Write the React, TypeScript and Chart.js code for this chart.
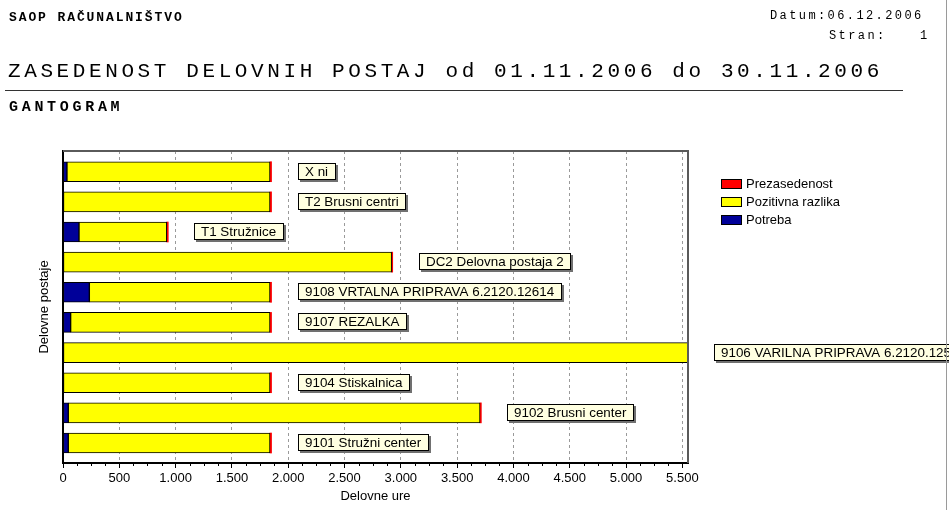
import React, { useEffect, useRef } from 'react';
import { Chart, registerables } from 'chart.js';

Chart.register(...registerables);

// ---------- data ----------
const stations = [
  'X ni',
  'T2 Brusni centri',
  'T1 Stružnice',
  'DC2 Delovna postaja 2',
  '9108 VRTALNA PRIPRAVA 6.2120.12614',
  '9107 REZALKA',
  '9106 VARILNA PRIPRAVA 6.2120.125',
  '9104 Stiskalnica',
  '9102 Brusni center',
  '9101 Stružni center',
];
const potreba = [35, 0, 142, 0, 234, 68, 0, 0, 47, 47];
const pozitivnaRazlika = [1803, 1838, 779, 2918, 1604, 1770, 5550, 1838, 3656, 1791];
const prezasedenost = [14, 14, 14, 10, 14, 14, 0, 14, 12, 14];
const seriesNames = ['Potreba', 'Pozitivna razlika', 'Prezasedenost'];
const seriesColors = ['#000099', '#FFFF00', '#FF0000'];
const xMajorTicks = [0, 500, 1000, 1500, 2000, 2500, 3000, 3500, 4000, 4500, 5000, 5500];
const xMax = 5550;
const xMinorDivisions = 4;

const FONT = '"Liberation Sans", Arial, sans-serif';
const MONO = '"Liberation Mono", "Courier New", monospace';

const fmt = (v: number) => {
  const s = String(Math.round(v));
  return s.replace(/\B(?=(\d{3})+(?!\d))/g, '.');
};
const isMajor = (v: number) => xMajorTicks.includes(v);

const labelPlugin = {
  id: 'stationLabels',
  afterDatasetsDraw(chart: any) {
    const { ctx, scales, chartArea } = chart;
    const x = scales.x;
    const y = scales.y;
    ctx.save();
    // plot frame (top / right)
    ctx.strokeStyle = '#5a5a5a';
    ctx.lineWidth = 2;
    ctx.beginPath();
    ctx.moveTo(chartArea.left, chartArea.top);
    ctx.lineTo(chartArea.right, chartArea.top);
    ctx.lineTo(chartArea.right, chartArea.bottom);
    ctx.stroke();
    // minor ticks
    ctx.strokeStyle = '#000';
    ctx.lineWidth = 1;
    const step = (xMajorTicks[1] - xMajorTicks[0]) / xMinorDivisions;
    for (let v = 0; v <= xMajorTicks[xMajorTicks.length - 1]; v += step) {
      if (isMajor(v)) continue;
      const px = Math.round(x.getPixelForValue(v)) + 0.5;
      ctx.beginPath();
      ctx.moveTo(px, chartArea.bottom);
      ctx.lineTo(px, chartArea.bottom + 3);
      ctx.stroke();
    }
    // station labels
    ctx.font = '13.4px ' + FONT;
    ctx.textBaseline = 'middle';
    ctx.textAlign = 'left';
    stations.forEach((name, i) => {
      const total = potreba[i] + pozitivnaRazlika[i] + prezasedenost[i];
      const bx = Math.round(x.getPixelForValue(total)) + 26;
      const cy = Math.round(y.getPixelForValue(i));
      const w = Math.ceil(ctx.measureText(name).width) + 14;
      const h = 17;
      const by = cy - 9;
      ctx.fillStyle = '#707070';
      ctx.fillRect(bx + 2, by + 2, w, h);
      ctx.fillStyle = '#FFFFE1';
      ctx.fillRect(bx, by, w, h);
      ctx.strokeStyle = '#000';
      ctx.lineWidth = 1;
      ctx.strokeRect(bx + 0.5, by + 0.5, w - 1, h - 1);
      ctx.fillStyle = '#000';
      ctx.fillText(name, bx + 7, cy + 0.5);
    });
    ctx.restore();
  },
  afterDraw(chart: any) {
    const { ctx } = chart;
    ctx.save();
    ctx.font = '13px ' + FONT;
    ctx.textBaseline = 'middle';
    const items = chart.data.datasets.slice().reverse();
    items.forEach((ds: any, k: number) => {
      const cy = 184 + k * 18;
      ctx.fillStyle = ds.backgroundColor;
      ctx.fillRect(721, cy - 5, 21, 10);
      ctx.strokeStyle = '#000';
      ctx.lineWidth = 1;
      ctx.strokeRect(721.5, cy - 4.5, 20, 9);
      ctx.fillStyle = '#000';
      ctx.fillText(ds.label, 746, cy + 0.5);
    });
    ctx.restore();
  },
};

function GanttChart() {
  const ref = useRef<HTMLCanvasElement>(null);
  useEffect(() => {
    if (!ref.current) return;
    Chart.defaults.font.family = FONT;
    Chart.defaults.font.size = 13;
    Chart.defaults.color = '#000';
    const values = [potreba, pozitivnaRazlika, prezasedenost];
    const chart = new Chart(ref.current, {
      type: 'bar',
      data: {
        labels: stations,
        datasets: seriesNames.map((name, s) => ({
          label: name,
          data: values[s].map((v, i) => ({ x: v, y: i })),
          backgroundColor: seriesColors[s],
          borderColor: s === 2 ? seriesColors[s] : '#000',
          borderWidth: s === 2 ? 0 : 1,
          borderSkipped: false,
          barThickness: 20,
        })),
      },
      options: {
        indexAxis: 'y',
        animation: false,
        responsive: false,
        events: [],
        layout: { padding: { left: 33, top: 151, right: 261, bottom: 0 } },
        plugins: { legend: { display: false }, tooltip: { enabled: false } },
        scales: {
          x: {
            type: 'linear',
            stacked: true,
            offset: false,
            min: 0,
            max: xMax,
            afterBuildTicks: (scale: any) => {
              const step = (xMajorTicks[1] - xMajorTicks[0]) / xMinorDivisions;
              const t: any[] = [];
              for (let v = 0; v <= xMajorTicks[xMajorTicks.length - 1]; v += step) t.push({ value: v });
              scale.ticks = t;
            },
            afterFit: (scale: any) => {
              scale.height = 47;
            },
            ticks: {
              autoSkip: false,
              maxRotation: 0,
              padding: 3,
              font: { size: 13, family: FONT },
              color: '#000',
              callback: (v: any) => (isMajor(Number(v)) ? fmt(Number(v)) : ''),
            },
            grid: {
              offset: false,
              color: (c: any) =>
                c.tick && isMajor(c.tick.value) && c.tick.value !== 0 ? '#9a9a9a' : 'transparent',
              tickColor: (c: any) => (c.tick && isMajor(c.tick.value) ? '#000' : 'transparent'),
              tickLength: 5,
              lineWidth: 1,
            },
            border: { display: true, color: '#000', width: 2, dash: [3, 3] },
            title: {
              display: true,
              text: 'Delovne ure',
              color: '#000',
              font: { size: 13, family: FONT },
              padding: { top: 4, bottom: 6 },
            },
          },
          y: {
            type: 'linear',
            stacked: true,
            reverse: true,
            offset: false,
            min: -0.687,
            max: 9.663,
            afterFit: (scale: any) => {
              scale.width = 30;
            },
            ticks: { display: false },
            grid: { display: false, offset: false, drawTicks: false, tickLength: 0 },
            border: { display: true, color: '#000', width: 2 },
            title: {
              display: true,
              text: 'Delovne postaje',
              color: '#000',
              font: { size: 13, family: FONT },
              padding: { top: 4, bottom: 10 },
            },
          },
        },
      } as any,
      plugins: [labelPlugin],
    });
    return () => chart.destroy();
  }, []);
  return (
    <canvas
      ref={ref}
      width={949}
      height={510}
      style={{ position: 'absolute', left: 0, top: 0, width: 949, height: 510, display: 'block' }}
    />
  );
}

const txt = (extra: React.CSSProperties): React.CSSProperties => ({
  position: 'absolute',
  fontFamily: MONO,
  lineHeight: 1,
  whiteSpace: 'pre',
  color: '#000',
  margin: 0,
  ...extra,
});

export default function App() {
  return (
    <div
      style={{
        position: 'absolute',
        left: 0,
        top: 0,
        width: 949,
        height: 510,
        background: '#fff',
        overflow: 'hidden',
      }}
    >
      <GanttChart />
      <div style={txt({ left: 9, top: 11, fontSize: 13, fontWeight: 'bold', letterSpacing: 1.9 })}>
        SAOP RAČUNALNIŠTVO
      </div>
      <div style={txt({ left: 770, top: 9.5, fontSize: 12, letterSpacing: 2.4 })}>Datum:06.12.2006</div>
      <div style={txt({ left: 829, top: 30, fontSize: 12, letterSpacing: 2.4 })}>Stran:</div>
      <div style={txt({ left: 920, top: 30, fontSize: 12 })}>1</div>
      <div style={txt({ left: 8, top: 61, fontSize: 21, letterSpacing: 3.6 })}>
        ZASEDENOST DELOVNIH POSTAJ od 01.11.2006 do 30.11.2006
      </div>
      <div
        style={{
          position: 'absolute',
          left: 5,
          top: 90,
          width: 898,
          height: 0,
          borderTop: '1.5px solid #333',
        }}
      />
      <div style={txt({ left: 9, top: 100, fontSize: 15, fontWeight: 'bold', letterSpacing: 3.7 })}>
        GANTOGRAM
      </div>
      <div
        style={{
          position: 'absolute',
          left: 946,
          top: 0,
          width: 1,
          height: 510,
          background: '#9a9a9a',
        }}
      />
    </div>
  );
}
